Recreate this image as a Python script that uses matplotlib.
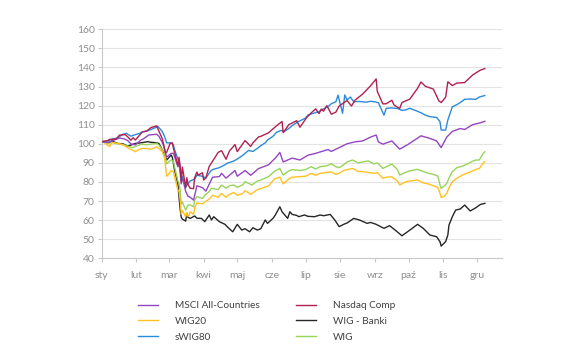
import matplotlib
matplotlib.use("Agg")
import matplotlib.pyplot as plt
import pandas as pd

plt.rcParams['font.family'] = ['Lato', 'DejaVu Sans']

YEAR = 2020
month_labels = ["sty", "lut", "mar", "kwi", "maj", "cze", "lip", "sie", "wrz", "paź", "lis", "gru"]
y_ticks = [40, 50, 60, 70, 80, 90, 100, 110, 120, 130, 140, 150, 160]

msci_dates = ["01-02","01-08","01-10","01-17","01-21","01-24","01-27","01-31","02-05","02-07","02-12","02-19","02-21","02-24","02-25","02-28","03-03","03-05","03-09","03-10","03-11","03-12","03-13","03-16","03-18","03-20","03-23","03-26","03-31","04-03","04-09","04-15","04-17","04-21","04-29","05-01","05-08","05-13","05-20","05-29","06-05","06-08","06-11","06-19","06-26","07-03","07-10","07-21","07-24","07-31","08-07","08-14","08-21","08-28","09-02","09-04","09-08","09-16","09-23","09-30","10-09","10-12","10-19","10-26","10-30","11-04","11-09","11-16","11-20","11-27","12-04","12-08"]
msci_vals = [100.9,100.8,101.5,103.0,102.6,101.8,100.0,99.4,102.0,102.5,104.6,105.0,104.0,100.8,99.5,93.0,95.0,95.0,88.0,90.0,85.0,79.0,82.5,75.0,72.5,72.0,70.5,78.0,77.0,75.2,82.5,82.8,84.5,82.0,86.0,83.0,86.0,83.5,87.0,89.0,93.2,95.5,90.5,92.5,91.5,94.0,95.0,97.0,96.0,98.0,100.0,101.0,101.5,103.5,104.6,101.0,99.8,101.5,97.2,99.5,103.0,104.2,103.0,101.5,98.0,103.5,106.5,108.0,107.5,110.0,111.0,111.8]

wig20_dates = ["01-02","01-06","01-08","01-10","01-15","01-20","01-24","01-27","01-31","02-05","02-10","02-14","02-19","02-21","02-24","02-26","02-28","03-02","03-03","03-05","03-06","03-09","03-10","03-11","03-12","03-13","03-16","03-17","03-18","03-19","03-20","03-23","03-24","03-26","03-31","04-02","04-06","04-09","04-14","04-17","04-21","04-24","04-28","05-01","05-06","05-08","05-13","05-19","05-22","05-29","06-03","06-08","06-11","06-16","06-19","06-26","07-01","07-06","07-10","07-14","07-20","07-24","07-28","07-31","08-04","08-07","08-12","08-17","08-21","08-26","08-31","09-03","09-08","09-11","09-16","09-21","09-23","09-28","10-02","10-09","10-14","10-19","10-23","10-27","10-29","10-30","11-02","11-04","11-06","11-09","11-13","11-18","11-23","11-26","11-30","12-03","12-07","12-08"]
wig20_vals = [101.0,99.5,98.5,100.6,100.2,99.5,98.0,97.1,95.9,97.5,97.6,97.1,98.5,97.5,95.9,93.0,83.0,85.0,86.0,85.4,82.8,75.8,75.0,71.0,63.0,65.0,61.8,64.0,62.0,62.5,64.4,63.0,66.5,69.0,68.5,69.5,71.0,73.0,72.0,74.0,72.0,73.5,74.5,73.0,74.0,75.5,73.5,76.0,76.5,78.0,81.5,82.5,79.0,81.5,82.5,82.8,83.0,84.5,83.5,84.5,85.0,85.3,84.0,84.5,86.0,86.5,87.1,85.5,85.4,85.0,84.5,85.0,81.9,82.5,82.7,80.5,78.4,80.0,80.5,81.0,79.5,78.9,78.0,77.2,74.0,71.9,72.5,74.0,77.0,80.1,82.0,83.6,84.8,85.5,86.6,87.0,90.3,90.6]

swig80_dates = ["01-02","01-07","01-10","01-15","01-20","01-23","01-27","01-31","02-04","02-07","02-11","02-14","02-18","02-20","02-21","02-24","02-26","02-28","03-03","03-05","03-06","03-09","03-10","03-11","03-12","03-13","03-16","03-18","03-20","03-24","03-26","03-31","04-03","04-07","04-09","04-15","04-20","04-22","04-28","05-01","05-06","05-11","05-15","05-19","05-22","05-26","05-28","06-02","06-05","06-09","06-12","06-16","06-19","06-24","06-26","07-01","07-03","07-08","07-13","07-16","07-21","07-24","07-28","07-30","08-03","08-05","08-07","08-10","08-13","08-18","08-24","08-28","09-01","09-04","09-09","09-11","09-16","09-21","09-25","09-28","10-02","10-07","10-13","10-16","10-20","10-26","10-29","10-30","11-03","11-05","11-09","11-13","11-17","11-20","11-25","11-30","12-03","12-08"]
swig80_vals = [101.1,101.5,102.5,103.0,105.0,105.5,104.0,104.8,105.5,106.3,106.8,107.5,108.5,109.2,108.5,106.5,104.0,100.5,100.5,99.5,97.0,92.0,91.0,88.0,81.0,83.0,77.5,79.0,80.5,81.5,83.5,83.0,82.0,85.5,86.5,87.5,89.0,89.8,91.0,92.0,94.0,96.5,96.0,97.6,99.0,100.5,102.0,104.0,106.0,107.0,106.5,108.0,109.5,111.5,112.0,113.5,115.0,116.0,116.8,118.0,119.5,121.0,122.0,125.5,116.0,125.6,123.0,124.5,122.0,122.2,121.8,122.3,122.0,121.5,115.0,118.6,118.8,118.5,117.5,117.7,118.6,117.5,116.0,115.0,114.2,113.8,111.6,107.2,107.2,112.5,119.4,120.5,122.0,123.3,123.5,123.3,124.5,125.3]

nasdaq_dates = ["01-02","01-06","01-08","01-10","01-14","01-17","01-22","01-24","01-27","01-29","01-31","02-04","02-06","02-10","02-14","02-19","02-21","02-24","02-25","02-27","02-28","03-02","03-04","03-05","03-06","03-09","03-10","03-11","03-12","03-13","03-16","03-17","03-18","03-20","03-23","03-24","03-26","03-27","03-31","04-01","04-03","04-06","04-09","04-14","04-17","04-21","04-24","04-29","05-01","05-08","05-13","05-15","05-20","05-22","05-29","06-05","06-10","06-11","06-16","06-19","06-23","06-26","07-02","07-06","07-10","07-13","07-15","07-17","07-20","07-24","07-28","07-31","08-07","08-11","08-14","08-21","08-28","09-02","09-03","09-08","09-11","09-16","09-18","09-23","09-25","10-02","10-09","10-12","10-16","10-23","10-28","10-30","11-03","11-05","11-09","11-13","11-20","11-27","12-04","12-08"]
nasdaq_vals = [101.3,101.6,102.3,102.3,102.6,104.6,104.8,103.8,101.9,103.2,102.0,104.6,106.2,106.6,108.5,109.4,106.7,102.8,100.2,95.3,95.5,100.1,100.5,97.6,95.6,88.6,92.9,88.5,80.3,87.8,77.0,82.2,78.7,76.7,76.5,82.3,85.2,83.6,84.8,81.0,82.2,88.2,90.9,95.5,96.4,91.9,96.2,99.6,95.9,101.7,98.6,100.5,103.6,103.9,105.8,109.4,111.7,105.8,110.0,110.9,112.1,108.7,113.8,116.2,118.3,115.8,118.2,117.1,120.0,115.5,116.6,119.8,122.7,119.8,122.8,126.1,130.4,134.0,127.5,120.9,121.0,122.8,120.3,118.5,121.6,123.4,129.1,132.4,130.1,128.7,122.5,121.6,124.4,132.5,130.5,131.8,132.1,136.0,138.6,139.4]

banki_dates = ["01-02","01-07","01-10","01-15","01-20","01-24","01-28","01-31","02-05","02-11","02-14","02-18","02-21","02-25","02-28","03-03","03-04","03-05","03-06","03-09","03-10","03-11","03-12","03-13","03-16","03-17","03-18","03-20","03-24","03-26","03-30","04-02","04-06","04-08","04-10","04-15","04-20","04-23","04-27","05-01","05-05","05-08","05-12","05-15","05-19","05-22","05-26","05-28","06-02","06-04","06-08","06-10","06-15","06-17","06-19","06-23","06-25","06-30","07-03","07-09","07-14","07-17","07-23","07-27","07-31","08-04","08-07","08-13","08-18","08-25","08-28","09-02","09-09","09-14","09-20","09-25","09-30","10-09","10-14","10-20","10-26","10-29","10-30","11-03","11-05","11-06","11-09","11-12","11-16","11-20","11-25","11-30","12-04","12-08"]
banki_vals = [101.0,100.5,101.5,100.2,100.0,98.8,99.5,100.2,100.5,101.1,100.8,100.6,100.2,95.9,91.5,94.1,93.0,89.8,86.3,79.0,72.3,66.0,61.5,60.5,59.5,63.6,61.5,60.9,62.2,61.0,60.9,59.2,62.7,60.1,61.8,59.2,57.8,56.0,53.9,57.8,54.8,55.5,53.9,56.0,54.8,55.5,60.1,58.3,61.0,62.7,67.0,64.4,60.9,64.4,63.0,62.5,61.8,62.7,62.0,61.8,62.7,62.3,63.0,60.1,56.6,57.8,58.5,60.9,60.1,58.3,58.8,57.8,55.7,57.1,54.3,51.8,53.9,57.8,55.7,52.2,51.3,48.7,46.4,48.7,52.2,57.4,61.8,65.3,65.8,67.9,64.8,66.5,68.2,68.8]

wig_dates = ["01-02","01-07","01-10","01-15","01-20","01-24","01-28","01-31","02-05","02-10","02-14","02-19","02-21","02-24","02-26","02-28","03-03","03-05","03-06","03-09","03-10","03-11","03-12","03-13","03-16","03-18","03-20","03-23","03-24","03-26","03-31","04-02","04-06","04-08","04-14","04-17","04-21","04-24","04-28","05-01","05-06","05-08","05-14","05-19","05-22","05-29","06-03","06-08","06-11","06-16","06-19","06-26","07-01","07-06","07-10","07-14","07-20","07-24","07-28","07-31","08-04","08-07","08-12","08-17","08-21","08-26","08-31","09-03","09-08","09-11","09-16","09-21","09-23","09-28","10-02","10-09","10-14","10-19","10-23","10-27","10-29","10-30","11-02","11-04","11-06","11-09","11-13","11-18","11-23","11-26","11-30","12-03","12-07","12-08"]
wig_vals = [101.2,100.2,100.8,100.0,99.6,98.8,98.0,98.5,99.8,99.5,99.8,100.2,99.4,97.0,95.5,89.5,91.5,91.0,88.0,80.5,79.5,76.0,68.5,69.5,65.3,67.9,68.0,67.0,70.5,72.3,71.4,73.0,75.0,76.7,76.0,78.4,76.7,78.0,78.4,77.2,78.5,80.2,78.4,80.5,81.0,82.8,85.5,87.1,83.6,85.8,86.5,86.0,86.5,88.0,86.8,88.0,88.5,89.5,88.0,87.5,89.0,90.5,91.5,90.0,90.5,91.0,89.5,90.0,87.1,88.0,89.4,86.5,83.6,85.0,85.8,86.6,85.5,84.5,84.0,83.1,78.4,76.6,78.0,79.3,82.0,85.4,87.5,88.3,89.5,90.6,91.5,91.5,95.3,95.8]

series = [
    ("MSCI All-Countries", msci_dates, msci_vals, "#9346C2"),
    ("WIG20", wig20_dates, wig20_vals, "#FFC222"),
    ("sWIG80", swig80_dates, swig80_vals, "#2B8ADB"),
    ("Nasdaq Comp", nasdaq_dates, nasdaq_vals, "#B0214E"),
    ("WIG - Banki", banki_dates, banki_vals, "#262626"),
    ("WIG", wig_dates, wig_vals, "#99D45A"),
]

def to_dt(md):
    return pd.to_datetime([f"{YEAR}-{d}" for d in md])

fig = plt.figure(figsize=(5.8, 3.6), dpi=100)
ax = fig.add_axes([101.7/580, 1-258.3/360, (502-101.7)/580, (258.3-29.3)/360])

draw_order = ["WIG - Banki", "WIG", "WIG20", "MSCI All-Countries", "sWIG80", "Nasdaq Comp"]
handles = {}
for name, d, v, c in series:
    ln, = ax.plot(to_dt(d), v, color=c, lw=1.0, label=name,
                  zorder=3 + draw_order.index(name), solid_joinstyle='round')
    handles[name] = ln

ax.set_ylim(40, 160)
ax.set_yticks(y_ticks)
month_starts = pd.to_datetime([f"{YEAR}-{m:02d}-01" for m in range(1, 13)])
ax.set_xticks(month_starts)
ax.set_xticklabels(month_labels)
ax.set_xlim(pd.Timestamp(f"{YEAR}-01-01"), pd.Timestamp(f"{YEAR}-12-23 08:00"))

ax.grid(axis='y', color='#e3e3e3', lw=0.8)
ax.set_axisbelow(True)
for s in ['top', 'right']:
    ax.spines[s].set_visible(False)
for s in ['left', 'bottom']:
    ax.spines[s].set_color('#c8c8c8')
    ax.spines[s].set_linewidth(0.8)
ax.tick_params(axis='both', colors='#c8c8c8', labelcolor='#8f8f8f', labelsize=7.5,
               length=3, width=0.8)
ax.tick_params(axis='x', pad=6)
ax.tick_params(axis='y', pad=2)

leg = fig.legend([handles[n] for n, *_ in series], [n for n, *_ in series],
                 ncol=2, loc='upper left', bbox_to_anchor=(138/580, 1-301/360),
                 frameon=False, fontsize=7.2, handlelength=2.0, handletextpad=1.7,
                 columnspacing=3.6, labelspacing=0.68, borderpad=0, borderaxespad=0)
for t in leg.get_texts():
    t.set_color('#404040')
for l in leg.get_lines():
    l.set_linewidth(1.0)

fig.savefig("out.png", dpi=100)
